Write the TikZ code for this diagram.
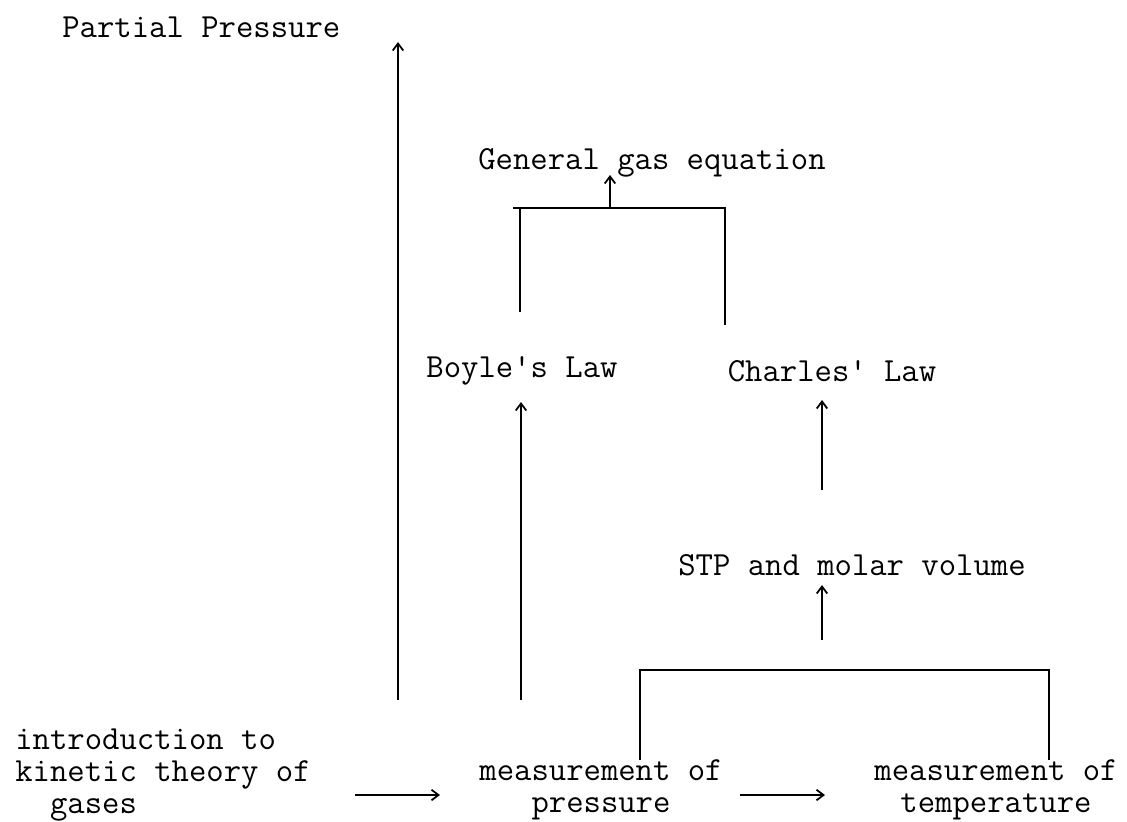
\documentclass[tikz,border=0pt]{standalone}
\usepackage{fontspec}
\newfontfamily\typew{Latin Modern Mono}
\usetikzlibrary{arrows.meta}
\tikzset{
	topic/.style={font=\typew\fontsize{19.2}{18}\selectfont,inner sep=0pt},
	link/.style={line width=1pt},
	arr/.style={link,-{Straight Barb[length=4pt,width=6pt]}},
}
\begin{document}
\begin{tikzpicture}
		[x=.02cm,y=-.02cm]
		\useasboundingbox (0,0) rectangle (1127,822);
		\node[topic,anchor=west](partial) at(62,27){Partial Pressure};
		\node[topic](general) at(652,163){General gas equation};
		\node[topic](boyle) at(522,371){Boyle's Law};
		\node[topic](charles) at(832,371){Charles' Law};
		\node[topic](stp) at(852,565){STP and molar volume};
		\node[topic,align=left,anchor=west](intro) at(15,775){introduction to\\kinetic theory of\\\ \ gases};
		\node[topic,align=center](mpress) at(601,790){measurement of\\pressure};
		\node[topic,align=center](mtemp) at(996,790){measurement of\\temperature};
		\coordinate(ppfoot) at(398,700);
		\coordinate(pptip) at(398,42);
		\coordinate(bfoot) at(521,700);
		\coordinate(btip) at(521,402);
		\coordinate(glegl) at(520,312);
		\coordinate(glegr) at(725,325);
		\coordinate(gbar) at(610,208);
		\coordinate(gtip) at(610,175);
		\coordinate(cfoot) at(822,490);
		\coordinate(ctip) at(822,400);
		\coordinate(sbar) at(822,640);
		\coordinate(stip) at(822,585);
		\coordinate(slegl) at(640,760);
		\coordinate(slegr) at(1049,760);
		\draw[arr](ppfoot)--(pptip);
		\draw[arr](bfoot)--(btip);
		\draw[link](513,208)--(glegr|-gbar)--(glegr);
		\draw[link](glegl|-gbar)--(glegl);
		\draw[arr](gbar)--(gtip);
		\draw[arr](cfoot)--(ctip);
		\draw[link](slegl)|-(slegr|-670,670)--(slegr);
		\draw[arr](sbar)--(stip);
		\draw[arr](355,795)--(440,795);
		\draw[arr](740,795)--(825,795);
	\end{tikzpicture}
\end{document}
